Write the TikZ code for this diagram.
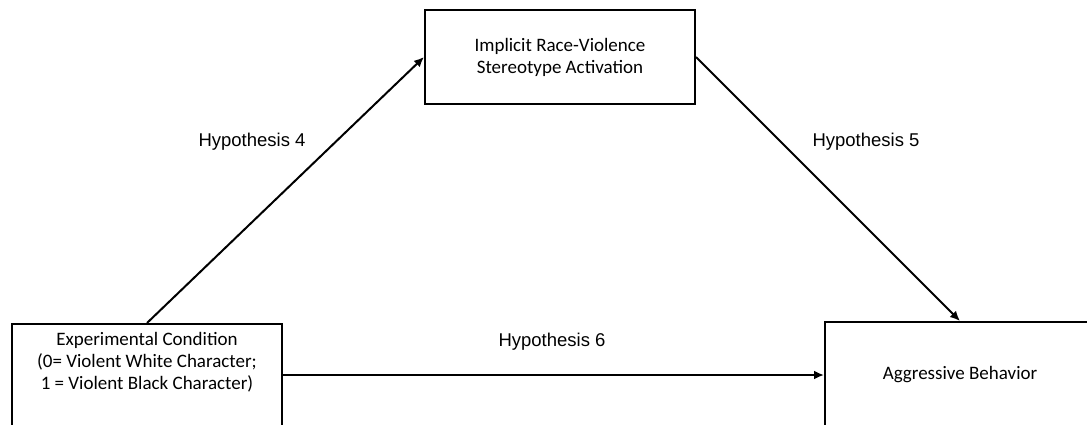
\documentclass[tikz,border=0pt]{standalone}
\usepackage{fontspec}
\setmainfont{Carlito}
\newfontfamily\arialfont{Liberation Sans}
\usetikzlibrary{positioning,arrows.meta}

\begin{document}
\begin{tikzpicture}[
  x=1pt,y=-1pt,
  font=\fontsize{19}{22}\selectfont,
  construct/.style={draw=black,line width=2pt,align=center,inner sep=6pt},
  link/.style={line width=2pt,-{Latex[length=10pt,width=9pt]}},
  hyp/.style={font=\arialfont\fontsize{18.5}{22}\selectfont}
]
\useasboundingbox (0,0) rectangle (1087,424);
% Constructs
\node[construct,minimum width=270pt,minimum height=94pt] (stereo) at (560,57) {Implicit Race-Violence\\ Stereotype Activation};
\node[construct,anchor=north,minimum width=270pt,inner ysep=8pt,text depth=70pt] (cond) at (147,323) {Experimental Condition\\ (0= Violent White Character;\\ 1 = Violent Black Character)};
\node[construct,minimum width=270pt,minimum height=106pt] (agg) at (960,375) {Aggressive Behavior};

% Paths
\draw[link] (cond.north) -- (stereo.west);
\draw[link] (stereo.east) -- (agg.north);
\draw[link] (cond.east |- agg.west) -- (agg.west);

\node[hyp] (h4) at (252,142) {Hypothesis 4};
\node[hyp] (h5) at (866,142) {Hypothesis 5};
\node[hyp] (h6) at (552,342) {Hypothesis 6};

\end{tikzpicture}
\end{document}
